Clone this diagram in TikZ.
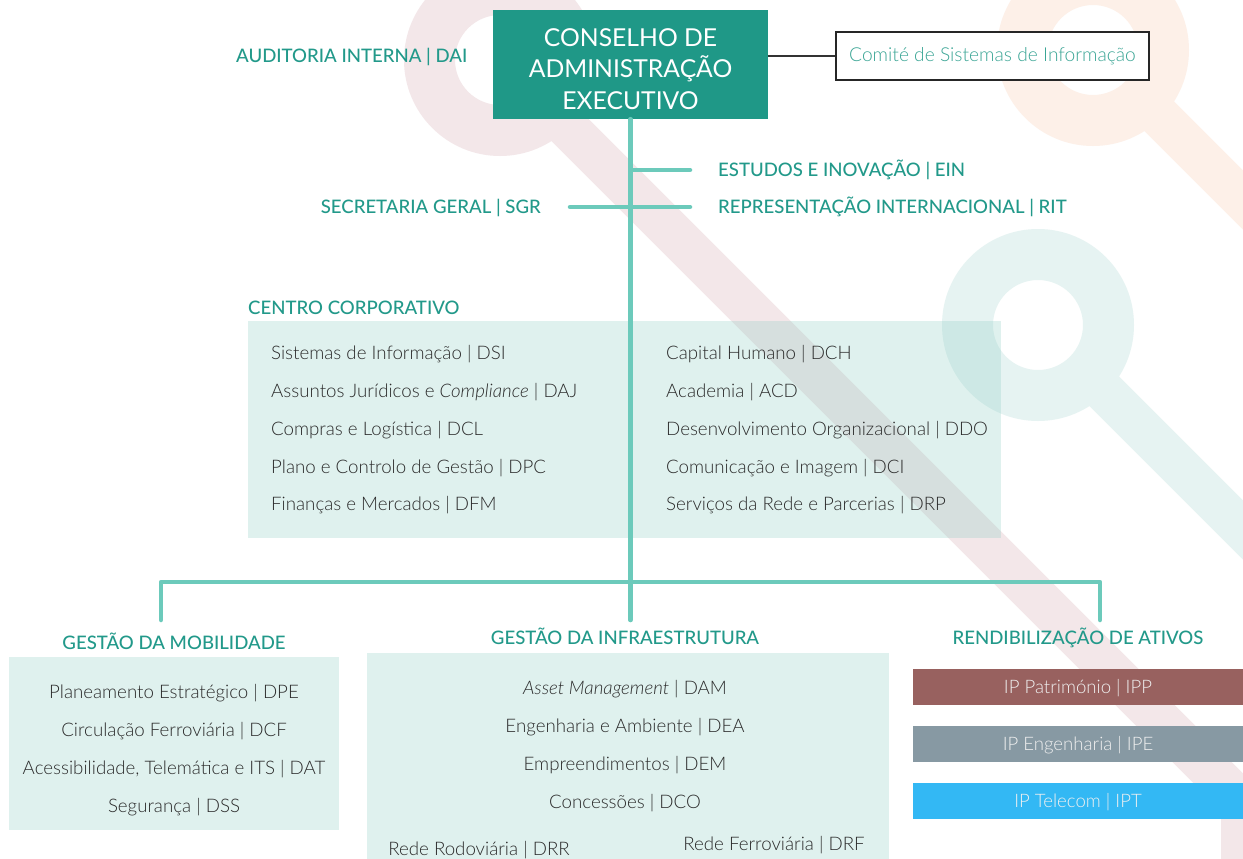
\documentclass[tikz,border=0pt]{standalone}
\usepackage{fontspec}
\setmainfont{Lato}
\newfontfamily\lightfont{Lato Light}
\newfontfamily\medfont{Lato Medium}
\usetikzlibrary{positioning}

\definecolor{boardteal}{HTML}{1F9887}
\definecolor{headteal}{HTML}{22998A}
\definecolor{linkteal}{HTML}{6CCABB}
\definecolor{panelteal}{HTML}{83CBBF}
\definecolor{comiteal}{HTML}{3AA595}
\definecolor{inkgrey}{HTML}{2B2B2B}
\definecolor{pinkbg}{HTML}{F3E7E9}
\definecolor{peachbg}{HTML}{FDF0E8}
\definecolor{tealbg}{HTML}{E6F3F2}
\definecolor{ippbrown}{HTML}{98615F}
\definecolor{ipegrey}{HTML}{8799A3}
\definecolor{iptblue}{HTML}{33B8F4}

\tikzset{
  trunk/.style={draw=linkteal, line width=4.5pt, line cap=round},
  head/.style={text=headteal, font=\medfont\fontsize{18.6}{22}\selectfont, inner sep=0pt, text height=13.3pt, text depth=0pt},
  unit/.style={text=inkgrey, font=\lightfont\fontsize{18.7}{22}\selectfont, inner sep=0pt, text height=13.4pt, text depth=0pt},
  panel/.style={fill=panelteal, fill opacity=.25, inner sep=0pt},
  ipbox/.style={minimum width=330pt, minimum height=36pt, inner sep=0pt, text height=13.3pt, text depth=0pt,
    text=white!94!black, font=\lightfont\fontsize{18.6}{22}\selectfont},
}

\begin{document}
\begin{tikzpicture}[x=1pt,y=-1pt]
\useasboundingbox (0,0) rectangle (1243,859);
\clip (0,0) rectangle (1243,859);
\fill[white] (0,0) rectangle (1243,859);

% the three key shapes behind everything
\foreach \cx/\cy/\col in {500/60/pinkbg, 1093/50/peachbg, 1038/325/tealbg} {
  \fill[\col, even odd rule] (\cx,\cy) circle[radius=96] (\cx,\cy) circle[radius=45];
}
\draw[pinkbg, line width=42pt, line join=round] (500,60) ++(45:70) -- (1242,802) -- (1242,900);
\draw[peachbg, line width=42pt] (1093,50) ++(45:70) -- ++(45:300);
\draw[tealbg, line width=42pt] (1038,325) ++(45:70) -- ++(45:400);

% panels
\node[panel, minimum width=753pt, minimum height=217pt] (corp) at (624.5,429.5) {};
\node[panel, minimum width=330pt, minimum height=173pt] (mobp) at (174,743.5) {};
\node[panel, minimum width=522pt, minimum height=220pt] (infp) at (628,763) {};

% top of the chart
\node[fill=boardteal, minimum width=275pt, minimum height=109pt] (board) at (630.5,64.5) {};
\node[text=white, align=center, inner sep=0pt, font=\fontsize{24.7}{31.5}\selectfont]
  (boardlbl) at (630.5,69) {CONSELHO DE\\ADMINISTRAÇÃO\\EXECUTIVO};
\node[draw=black!85, line width=1.3pt, fill=white, minimum width=313pt, minimum height=48pt,
      text=comiteal, font=\lightfont\fontsize{19.2}{22}\selectfont] (csi) at (992.5,56) {Comité de Sistemas de Informação};
\draw[black!80, line width=1.2pt] (board.east |- csi.west) -- (csi.west);

\node[head, anchor=west] (dai) at (236,56) {AUDITORIA INTERNA | DAI};
\node[head, anchor=west] (ein) at (718,170) {ESTUDOS E INOVAÇÃO | EIN};
\node[head, anchor=west] (rit) at (718,207) {REPRESENTAÇÃO INTERNACIONAL | RIT};
\node[head, anchor=east] (sgr) at (541,207) {SECRETARIA GERAL | SGR};

% main trunk and branches
\coordinate (dropM) at (161,620);
\coordinate (dropR) at (1100,620);
\coordinate (hub) at (630.5,582);
\draw[trunk] (board.south) -- (board.south |- dropM);
\draw[trunk] (board.south |- ein) -- ([xshift=-28pt]ein.west);
\draw[trunk] ([xshift=29pt]sgr.east) -- ([xshift=-28pt]rit.west);
\draw[trunk, line join=round] (dropM) |- (hub) -| (dropR);

% centro corporativo
\node[head, anchor=west] (cchead) at (248,308) {CENTRO CORPORATIVO};
\foreach \txt [count=\i] in {{Sistemas de Informação | DSI}, {Assuntos Jurídicos e \textit{Compliance} | DAJ},
    {Compras e Logística | DCL}, {Plano e Controlo de Gestão | DPC}, {Finanças e Mercados | DFM}} {
  \node[unit, anchor=west] (ccl\i) at (271,315.5+37.7*\i) {\txt};
}
\foreach \txt [count=\i] in {{Capital Humano | DCH}, {Academia | ACD}, {Desenvolvimento Organizacional | DDO},
    {Comunicação e Imagem | DCI}, {Serviços da Rede e Parcerias | DRP}} {
  \node[unit, anchor=west] (ccr\i) at (666,315.5+37.7*\i) {\txt};
}

% the three business areas
\node[head] (mob) at (174,643) {GESTÃO DA MOBILIDADE};
\node[head] (inf) at (625,638) {GESTÃO DA INFRAESTRUTURA};
\node[head] (ren) at (1078,638) {RENDIBILIZAÇÃO DE ATIVOS};

\foreach \txt [count=\i] in {{Planeamento Estratégico | DPE}, {Circulação Ferroviária | DCF},
    {Acessibilidade, Telemática e ITS | DAT}, {Segurança | DSS}} {
  \node[unit] (mob\i) at (174,654.5+37.7*\i) {\txt};
}
\foreach \txt [count=\i] in {{\textit{Asset Management} | DAM}, {Engenharia e Ambiente | DEA},
    {Empreendimentos | DEM}, {Concessões | DCO}} {
  \node[unit] (inf\i) at (625,650.5+37.7*\i) {\txt};
}
\node[unit] (drr) at (479,849) {Rede Rodoviária | DRR};
\node[unit] (drf) at (774,844) {Rede Ferroviária | DRF};

\node[ipbox, fill=ippbrown] (ipp) at (1078,687) {IP Património | IPP};
\node[ipbox, fill=ipegrey] (ipe) at (1078,744) {IP Engenharia | IPE};
\node[ipbox, fill=iptblue] (ipt) at (1078,801) {IP Telecom | IPT};
\end{tikzpicture}
\end{document}
